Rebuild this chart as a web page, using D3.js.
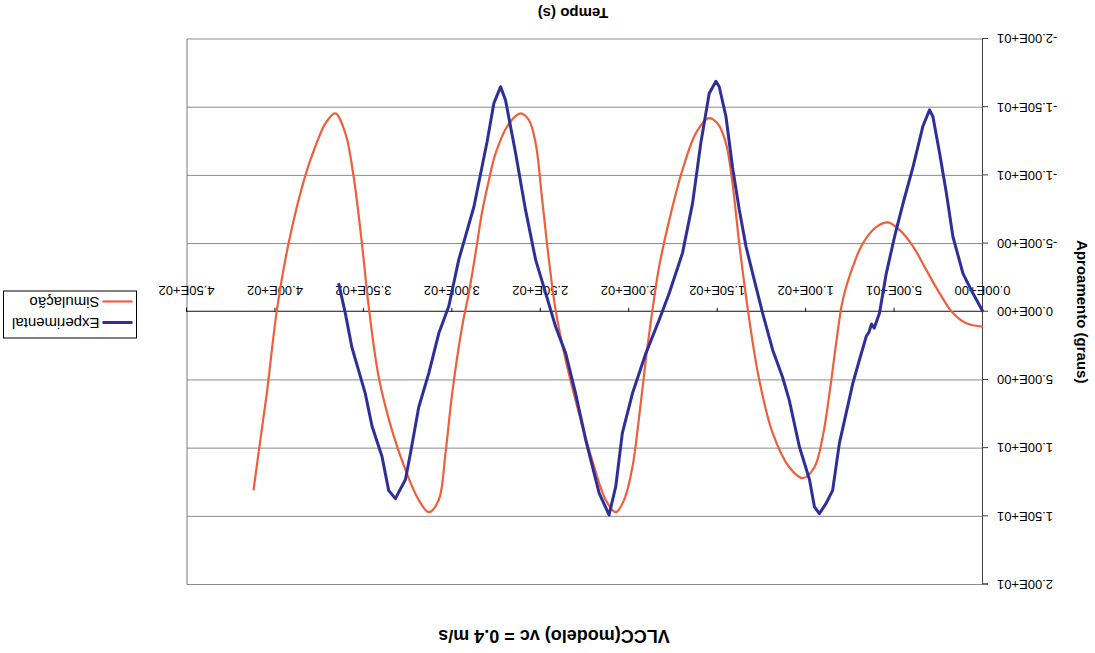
<!DOCTYPE html>
<html>
<head>
<meta charset="utf-8">
<script src="https://cdn.jsdelivr.net/npm/d3@7"></script>
<style>
  html, body { margin: 0; padding: 0; background: #fff; }
  svg { display: block; }
  text { font-family: "Liberation Sans", Arial, sans-serif; fill: #000; }
</style>
</head>
<body>
<svg id="chart" width="1095" height="653"></svg>
<script>
// Heading angle (graus) vs time (s), VLCC model at vc = 0.4 m/s

const chartTitle = "VLCC(modelo) vc = 0.4 m/s";
const xTitle = "Tempo (s)";
const yTitle = "Aproamento (graus)";
const seriesNames = ["Experimental", "Simulação"];

const xTicks = [0, 50, 100, 150, 200, 250, 300, 350, 400, 450];
const yTicks = [-20, -15, -10, -5, 0, 5, 10, 15, 20];

// Experimental record
const expTime = [0, 5.7, 11.3, 17, 20.7, 24.5, 28.3, 30.2, 34, 39.6, 45.3, 50, 54.7, 58.5, 61.5, 63, 64.5, 66, 69.8,
  73.6, 77.4, 81.2, 85, 88.7, 92.5, 95.3, 98.1, 103.8, 109.5, 113.3, 118.9, 124.6, 130.2, 134, 137.8, 141.6,
  145.3, 149.1, 151, 154.8, 159.5, 164.2, 169.9, 177.4, 183.1, 190.6, 198.2, 203.9, 207.6, 211.4, 217, 224.6,
  230.3, 235.9, 241.6, 247.2, 252.9, 258.6, 264.2, 269.9, 272.7, 276.5, 280.3, 287.8, 296.4, 302, 307.7, 313.3,
  319, 323.7, 326.5, 332.2, 336, 339.8, 345.4, 349.2, 353, 356.8, 360.5, 364.3];
const expAngle = [0, -1.35, -2.8, -5.5, -8.7, -11.6, -14.3, -14.8, -13.6, -10.6, -7.9, -5.5, -2.8, 0.1, 1.2, 0.9, 1.5, 1.8, 3.5,
  5.25, 7.45, 9.65, 13.1, 14.05, 14.8, 14.3, 12.3, 9.9, 6.5, 4.8, 2.8, 0.1, -2.8, -4.8, -7.5, -10.6,
  -14.3, -16.5, -16.9, -16, -12.4, -7.95, -4.3, -1.35, 0.6, 3.05, 6.0, 8.9, 12.8, 14.9, 13.3, 9.4,
  6.0, 3.05, 1.1, -1.35, -3.8, -7.45, -11.6, -15.5, -16.5, -15.3, -12.5, -7.7, -3.8, -0.4, 1.6, 4.5,
  7.0, 10.4, 12.3, 13.7, 13.1, 10.6, 8.4, 6.0, 4.3, 2.6, 0.1, -2.1];

// Simulated response
const simTime = [0, 9.4, 17, 24.5, 32, 39.6, 47.2, 53.8, 60.4, 68, 73.6, 79.3, 83, 86.8, 90.6, 95.3, 101.9, 109.5,
  118.9, 126.5, 132.1, 137.8, 141.6, 145.3, 150, 155.2, 162.3, 169.9, 177.4, 183.1, 186.9, 190.6, 194.4, 198.2,
  202.9, 207.6, 213.3, 220.9, 228.4, 236, 241.6, 245.4, 249.2, 252.9, 256.7, 261.4, 268, 275.6, 279.4, 283.2,
  286.5, 290.7, 294.5, 300.1, 303.9, 307.7, 313.3, 319, 326.5, 334.1, 341.6, 347.3, 351.1, 355.8, 360.5, 366.2,
  371.8, 377.5, 383.1, 392.6, 399.2, 404.9, 409.6, 412.4];
const simAngle = [1.1, 0.85, 0.1, -1.35, -3.05, -4.8, -6.0, -6.55, -6.2, -5.0, -3.3, -0.85, 2.3, 6.0, 9.15, 11.4, 12.2, 11.4,
  8.9, 5.0, 0.6, -5.0, -9.4, -12.35, -13.8, -14.2, -13.1, -10.4, -6.7, -3.3, -0.1, 3.5, 7.7, 11.4,
  13.8, 14.7, 13.8, 10.9, 7.45, 3.5, -0.1, -3.8, -8.2, -12.35, -14.05, -14.55, -13.8, -11.6, -9.6, -7.3,
  -4.6, -1.35, 1.1, 6.0, 10.4, 13.8, 14.7, 13.8, 11.6, 8.7, 4.8, -0.4, -5.0, -9.9, -13.1, -14.55,
  -13.8, -12.1, -10.0, -5.0, -0.1, 6.0, 10.4, 13.1];

const expColor = "#2E2F9B";
const simColor = "#EE5F3B";

const W = 1095, H = 653;
const plot = { left: 112, right: 908, top: 68.5, bottom: 614 };

const svg = d3.select("#chart");
// The whole figure is presented turned half a revolution
const g = svg.append("g").attr("transform", `rotate(180 ${W / 2} ${H / 2})`);

const x = d3.scaleLinear().domain([0, 450]).range([plot.left, plot.right]);
const y = d3.scaleLinear().domain([-20, 20]).range([plot.bottom, plot.top]);

function sci(v) {
  const [m, e] = v.toExponential(2).split("e");
  const sign = e[0] === "-" ? "-" : "+";
  const digits = e.replace(/^[+-]/, "").padStart(2, "0");
  return `${m}E${sign}${digits}`;
}

// Gridlines
g.append("g")
  .selectAll("line")
  .data(yTicks.filter(v => v !== 0))
  .join("line")
  .attr("x1", plot.left).attr("x2", plot.right)
  .attr("y1", d => y(d)).attr("y2", d => y(d))
  .attr("stroke", "#8a8a8a").attr("stroke-width", 1);

// Plot area right border
g.append("line")
  .attr("x1", plot.right).attr("x2", plot.right)
  .attr("y1", plot.top).attr("y2", plot.bottom)
  .attr("stroke", "#7a7a7a").attr("stroke-width", 1);

// Y axis
const yAxis = g.append("g")
  .attr("transform", `translate(${plot.left},0)`)
  .call(d3.axisLeft(y).tickValues(yTicks).tickFormat(sci).tickSize(5).tickPadding(9));
yAxis.select(".domain").attr("stroke", "#404040");
yAxis.selectAll(".tick line").attr("stroke", "#404040");
yAxis.selectAll("text").style("font-size", "13px").style("font-family", "'Liberation Sans', Arial, sans-serif").attr("fill", "#000");

// X axis along zero
const xAxis = g.append("g")
  .attr("transform", `translate(0,${y(0)})`)
  .call(d3.axisBottom(x).tickValues(xTicks).tickFormat(sci).tickSize(4).tickPadding(13));
xAxis.select(".domain").attr("stroke", "#111");
xAxis.selectAll(".tick line").attr("stroke", "#111");
xAxis.selectAll("text").style("font-size", "13px").style("font-family", "'Liberation Sans', Arial, sans-serif").attr("fill", "#000");

// Series
const expData = expTime.map((t, i) => [t, expAngle[i]]);
const simData = simTime.map((t, i) => [t, simAngle[i]]);

g.append("path")
  .datum(simData)
  .attr("fill", "none")
  .attr("stroke", simColor)
  .attr("stroke-width", 2.2)
  .attr("d", d3.line().x(d => x(d[0])).y(d => y(d[1])).curve(d3.curveCatmullRom));

g.append("path")
  .datum(expData)
  .attr("fill", "none")
  .attr("stroke", expColor)
  .attr("stroke-width", 3)
  .attr("stroke-linejoin", "round")
  .attr("d", d3.line().x(d => x(d[0])).y(d => y(d[1])));

// Titles
g.append("text")
  .attr("x", 541).attr("y", 23)
  .attr("text-anchor", "middle")
  .style("font-size", "18px").style("font-weight", "bold")
  .text(chartTitle);

g.append("text")
  .attr("x", 522).attr("y", 645)
  .attr("text-anchor", "middle")
  .style("font-size", "15px").style("font-weight", "bold")
  .text(xTitle);

g.append("text")
  .attr("transform", `translate(18,${(plot.top + plot.bottom) / 2}) rotate(-90)`)
  .attr("text-anchor", "middle")
  .style("font-size", "15px").style("font-weight", "bold")
  .text(yTitle);

// Legend
const legend = g.append("g").attr("transform", "translate(958.5,315)");
legend.append("rect")
  .attr("width", 133).attr("height", 47)
  .attr("fill", "#fff").attr("stroke", "#000").attr("stroke-width", 1);
const colors = [expColor, simColor];
seriesNames.forEach((name, i) => {
  const cy = 15.5 + i * 21;
  legend.append("line")
    .attr("x1", 4).attr("x2", 34).attr("y1", cy).attr("y2", cy)
    .attr("stroke", colors[i]).attr("stroke-width", i === 0 ? 3 : 2.2);
  legend.append("text")
    .attr("x", 37).attr("y", cy + 5)
    .style("font-size", "15px")
    .text(name);
});
</script>
</body>
</html>
